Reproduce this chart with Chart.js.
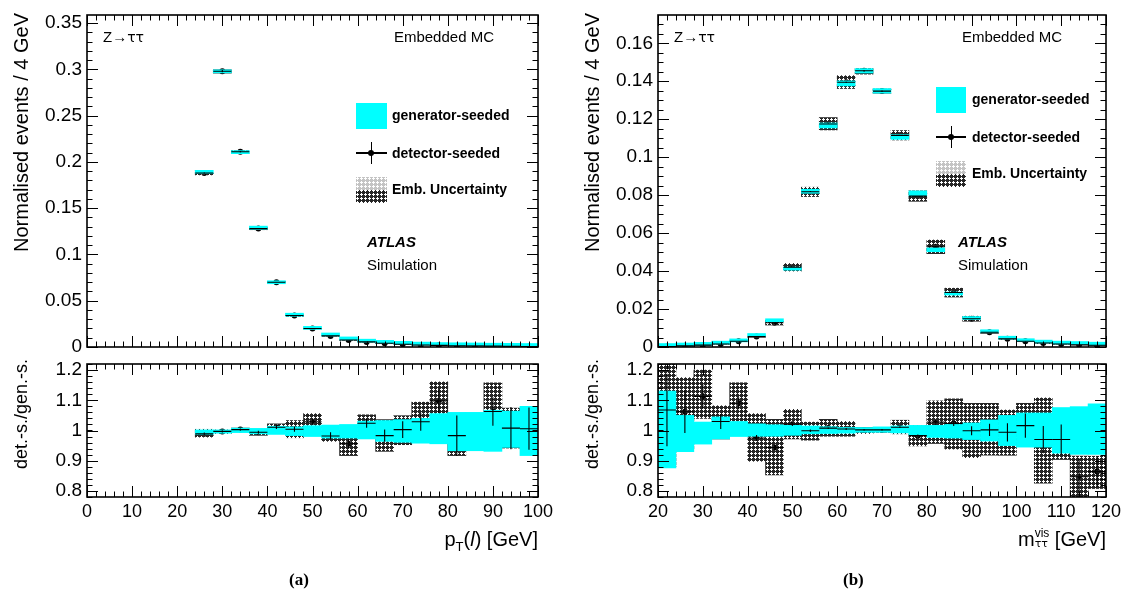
<!DOCTYPE html>
<html>
<head>
<meta charset="utf-8">
<script src="https://cdn.jsdelivr.net/npm/chart.js@4.4.1/dist/chart.umd.min.js"></script>
<style>
body { margin: 0; width: 1128px; height: 590px; background: #fff; position: relative; overflow: hidden;
       font-family: "Liberation Sans", Arial, sans-serif; color: #000; }
.pane { position: absolute; }
.t { position: absolute; white-space: nowrap; }
.vt { position: absolute; white-space: nowrap; transform: rotate(-90deg); transform-origin: left top; text-align: right; }
.leg { font-weight: bold; font-size: 14px; line-height: 16px; }
.lab { font-size: 15px; line-height: 18px; }
.tau { font-family: "DejaVu Sans", sans-serif; font-size: 14px; }
.xt { font-size: 20px; line-height: 24px; text-align: right; }
.sub { font-size: 13px; position: relative; top: 5px; }
.pl { font-family: "Liberation Serif", "Times New Roman", serif; font-weight: bold; font-size: 17px; line-height: 20px; }
</style>
</head>
<body>
<div class="pane" style="left:0;top:-10px;width:560px;height:380px"><canvas id="ptTop"></canvas></div>
<div class="pane" style="left:0;top:340px;width:560px;height:250px"><canvas id="ptRat"></canvas></div>
<div class="pane" style="left:570px;top:-10px;width:558px;height:380px"><canvas id="mTop"></canvas></div>
<div class="pane" style="left:570px;top:340px;width:558px;height:250px"><canvas id="mRat"></canvas></div>

<!-- axis titles -->
<div class="vt" style="left:10px;top:313px;width:300px;font-size:20px;line-height:22px">Normalised events / 4 GeV</div>
<div class="vt" style="left:581px;top:313px;width:300px;font-size:20px;line-height:22px">Normalised events / 4 GeV</div>
<div class="vt" style="left:11px;top:559px;width:200px;font-size:18px;line-height:20px">det.-s./gen.-s.</div>
<div class="vt" style="left:582px;top:559px;width:200px;font-size:18px;line-height:20px">det.-s./gen.-s.</div>
<div class="t xt" style="right:590px;top:527px">p<span class="sub">T</span>(<i>l</i>) [GeV]</div>
<div class="t xt" style="right:22px;top:527px">m<span style="display:inline-block;vertical-align:middle;font-size:12px;line-height:10px;text-align:left;position:relative;top:-2px">vis<br><span style="font-family:'DejaVu Sans';font-size:11px">ττ</span></span> [GeV]</div>

<!-- panel (a) -->
<div class="t lab" style="left:103px;top:28px">Z→<span class="tau">ττ</span></div>
<div class="t lab" style="right:634px;top:28px">Embedded MC</div>
<div class="t" style="left:356px;top:103px;width:31px;height:26px;background:#00ffff"></div>
<div class="t leg" style="left:392px;top:107px">generator-seeded</div>
<div class="t" style="left:356px;top:152px;width:31px;height:1.5px;background:#000"></div>
<div class="t" style="left:370.5px;top:142px;width:1.5px;height:22px;background:#000"></div>
<div class="t" style="left:368px;top:150px;width:6px;height:6px;border-radius:3px;background:#000"></div>
<div class="t leg" style="left:392px;top:145px">detector-seeded</div>
<canvas class="t sw" width="31" height="26" style="left:356px;top:177px"></canvas>
<div class="t leg" style="left:392px;top:181px">Emb. Uncertainty</div>
<div class="t lab" style="left:367px;top:233px;font-weight:bold;font-style:italic">ATLAS</div>
<div class="t lab" style="left:367px;top:256px">Simulation</div>
<div class="t pl" style="left:289px;top:570px">(a)</div>

<!-- panel (b) -->
<div class="t lab" style="left:674px;top:28px">Z→<span class="tau">ττ</span></div>
<div class="t lab" style="right:66px;top:28px">Embedded MC</div>
<div class="t" style="left:936px;top:87px;width:30px;height:26px;background:#00ffff"></div>
<div class="t leg" style="left:972px;top:91px">generator-seeded</div>
<div class="t" style="left:936px;top:136px;width:30px;height:1.5px;background:#000"></div>
<div class="t" style="left:950.5px;top:126px;width:1.5px;height:22px;background:#000"></div>
<div class="t" style="left:948px;top:134px;width:6px;height:6px;border-radius:3px;background:#000"></div>
<div class="t leg" style="left:972px;top:129px">detector-seeded</div>
<canvas class="t sw" width="30" height="26" style="left:936px;top:161px"></canvas>
<div class="t leg" style="left:972px;top:165px">Emb. Uncertainty</div>
<div class="t lab" style="left:958px;top:233px;font-weight:bold;font-style:italic">ATLAS</div>
<div class="t lab" style="left:958px;top:256px">Simulation</div>
<div class="t pl" style="left:843px;top:570px">(b)</div>

<script>
// ---- (a) lepton pT, 4 GeV bins ----
const ptCenters = [26, 30, 34, 38, 42, 46, 50, 54, 58, 62, 66, 70, 74, 78, 82, 86, 90, 94, 98];
const ptDet = [0.188, 0.298, 0.211, 0.128, 0.070, 0.034, 0.020, 0.012, 0.0075, 0.0055, 0.004, 0.003,
               0.0022, 0.0018, 0.0014, 0.0012, 0.001, 0.0008, 0.0006];
const ptRatio = [0.989, 0.997, 1.003, 0.994, 1.011, 1.004, 1.029, 0.982, 0.956, 1.024, 0.983, 1.003,
                 1.029, 1.098, 0.983, null, 1.063, 1.008, 1.006];
const ptRatioErr = [0.004, 0.004, 0.004, 0.005, 0.006, 0.008, 0.01, 0.012, 0.015, 0.015, 0.02, 0.028,
                    0.03, 0.04, 0.067, null, 0.047, 0.07, 0.07];
const ptEmbLo = [0.978, 0.99, 0.997, 0.984, 1.0, 0.976, 1.002, 0.964, 0.917, 0.994, 0.931, 0.953,
                 0.964, 1.033, 0.917, null, 0.964, 0.942, 0.942];
const ptEmbHi = [1.004, 1.002, 1.008, 1.004, 1.022, 1.033, 1.056, 1.0, 0.994, 1.052, 1.036, 1.049,
                 1.094, 1.161, 1.053, null, 1.158, 1.074, 1.067];
const ptGenLo = [0.987, 0.991, 0.993, 0.989, 0.987, 0.983, 0.98, 0.975, 0.975, 0.972, 0.964, 0.961,
                 0.958, 0.956, 0.933, 0.933, 0.931, 0.944, 0.917];
const ptGenHi = [1.002, 1.002, 1.008, 1.007, 1.014, 1.012, 1.016, 1.018, 1.02, 1.031, 1.033, 1.036,
                 1.04, 1.056, 1.06, 1.06, 1.067, 1.064, 1.08];
const ptXTicks = [0, 10, 20, 30, 40, 50, 60, 70, 80, 90, 100];
const ptYTicks = [0, 0.05, 0.1, 0.15, 0.2, 0.25, 0.3, 0.35];

// ---- (b) visible mass, 4 GeV bins ----
const mCenters = [22, 26, 30, 34, 38, 42, 46, 50, 54, 58, 62, 66, 70, 74, 78, 82, 86, 90, 94, 98, 102, 106, 110, 114, 118];
const mDet = [0.0003, 0.0006, 0.001, 0.0016, 0.003, 0.0055, 0.0128, 0.042, 0.0818, 0.1175, 0.1395, 0.1455,
              0.1348, 0.1115, 0.0795, 0.0528, 0.0287, 0.0149, 0.0078, 0.0043, 0.003, 0.0021, 0.0016, 0.0012, 0.0009];
const mRatio = [1.068, 1.062, 1.113, 1.03, 1.09, 0.975, 0.944, 1.021, 0.999, 1.008, 1.005, 1.002, 1.002,
                1.011, 0.983, 1.028, 1.023, 0.999, 1.002, 0.994, 1.016, 0.97, 0.97, 0.847, 0.864];
const mRatioErr = [0.12, 0.07, 0.04, 0.025, 0.02, 0.01, 0.008, 0.006, 0.004, 0.003, 0.003, 0.003, 0.003,
                   0.003, 0.004, 0.006, 0.008, 0.015, 0.02, 0.03, 0.04, 0.045, 0.05, 0.06, 0.05];
const mEmbLo = [0.88, 0.938, 1.04, 0.972, 1.03, 0.898, 0.853, 0.972, 0.968, 0.981, 0.981, 0.99, 0.994,
                0.989, 0.949, 0.957, 0.938, 0.91, 0.918, 0.918, 0.949, 0.826, 0.904, 0.70, 0.808];
const mEmbHi = [1.25, 1.175, 1.2, 1.082, 1.158, 1.056, 1.037, 1.07, 1.028, 1.037, 1.03, 1.01, 1.01,
                1.034, 1.017, 1.098, 1.105, 1.09, 1.09, 1.068, 1.09, 1.108, 1.034, 0.915, 0.915];
const mGenLo = [0.876, 0.93, 0.955, 0.972, 0.98, 0.981, 0.981, 0.984, 0.989, 0.99, 0.991, 0.994, 0.994,
                0.992, 0.984, 0.977, 0.975, 0.97, 0.965, 0.95, 0.945, 0.945, 0.925, 0.921, 0.921];
const mGenHi = [1.13, 1.05, 1.028, 1.045, 1.03, 1.022, 1.019, 1.017, 1.015, 1.0125, 1.01, 1.01, 1.012,
                1.015, 1.017, 1.017, 1.02, 1.025, 1.035, 1.05, 1.058, 1.058, 1.076, 1.079, 1.088];
const mXTicks = [20, 30, 40, 50, 60, 70, 80, 90, 100, 110, 120];
const mYTicks = [0, 0.02, 0.04, 0.06, 0.08, 0.1, 0.12, 0.14, 0.16];

const ratioYTicks = [0.8, 0.9, 1, 1.1, 1.2];

Chart.defaults.font.family = '"Liberation Sans", Arial, sans-serif';
Chart.defaults.color = '#000';
Chart.defaults.animation = false;

// cross-hatch: dark diagonal grid with small white holes, transparent so cyan shows through
function hatch(ctx, col) {
    const c = document.createElement('canvas');
    c.width = c.height = 4;
    const g = c.getContext('2d');
    g.fillStyle = col;
    g.fillRect(0, 0, 4, 4);
    // punch a small plus shaped hole
    [[1, 0], [0, 1], [1, 1], [2, 1], [1, 2]].forEach(p => g.clearRect(p[0], p[1], 1, 1));
    return ctx.createPattern(c, 'repeat');
}

// legend swatches for the uncertainty (light + dark hatch)
document.querySelectorAll('.sw').forEach(c => {
    const g = c.getContext('2d');
    g.fillStyle = hatch(g, '#c4c4c4');
    g.fillRect(0, 0, c.width, 13);
    g.fillStyle = hatch(g, '#262626');
    g.fillRect(0, 13, c.width, 13);
});

// ROOT style frame with ticks pointing inwards, on all four sides
const frame = {
    id: 'frame',
    afterDraw(chart, args, o) {
        const { ctx, chartArea: a, scales: { x, y } } = chart;
        ctx.save();
        ctx.strokeStyle = '#000';
        ctx.lineWidth = 1;
        ctx.beginPath();
        const xs = (v, len) => {
            const p = Math.round(x.getPixelForValue(v)) + 0.5;
            ctx.moveTo(p, a.bottom); ctx.lineTo(p, a.bottom - len);
            ctx.moveTo(p, a.top); ctx.lineTo(p, a.top + len);
        };
        const ys = (v, len) => {
            const p = Math.round(y.getPixelForValue(v)) + 0.5;
            ctx.moveTo(a.left, p); ctx.lineTo(a.left + len, p);
            ctx.moveTo(a.right, p); ctx.lineTo(a.right - len, p);
        };
        for (let v = x.min; v <= x.max + 1e-9; v += o.xMinor) xs(v, 5.5);
        o.xTicks.forEach(v => xs(v, 11));
        const y0 = Math.ceil(y.min / o.yMinor - 1e-9) * o.yMinor;
        for (let v = y0; v <= y.max + 1e-9; v += o.yMinor) ys(v, 5.5);
        o.yTicks.forEach(v => ys(v, 11));
        ctx.stroke();
        ctx.lineWidth = 1.6;
        ctx.strokeRect(a.left, a.top, a.width, a.height);
        ctx.restore();
    }
};

// horizontal bin-width bars and vertical error bars on the detector-seeded points
const errBars = {
    id: 'errBars',
    afterDatasetsDraw(chart) {
        const { ctx, chartArea: a, scales: { x, y } } = chart;
        ctx.save();
        ctx.beginPath();
        ctx.rect(a.left, a.top, a.width, a.height);
        ctx.clip();
        ctx.strokeStyle = '#000';
        ctx.lineWidth = 1.1;
        chart.data.datasets.forEach(ds => {
            if (!ds.errs) return;
            ds.data.forEach((p, i) => {
                if (p.y == null) return;
                const px = x.getPixelForValue(p.x), py = y.getPixelForValue(p.y);
                ctx.beginPath();
                ctx.moveTo(x.getPixelForValue(p.x - 2), py);
                ctx.lineTo(x.getPixelForValue(p.x + 2), py);
                if (ds.errs[i]) {
                    ctx.moveTo(px, y.getPixelForValue(p.y - ds.errs[i]));
                    ctx.lineTo(px, y.getPixelForValue(p.y + ds.errs[i]));
                }
                ctx.stroke();
            });
        });
        ctx.restore();
    }
};

function build(id, datasets, xr, yr, xTicks, yTicks, yMinor, yWidth, isRatio) {
    const canvas = document.getElementById(id);
    const ctx = canvas.getContext('2d');
    return new Chart(ctx, {
        type: 'bar',
        data: { datasets: datasets(ctx) },
        options: {
            responsive: true,
            maintainAspectRatio: false,
            layout: { padding: isRatio ? { left: 0, right: 22, top: 24, bottom: 0 } : { left: 0, right: 22, top: 25, bottom: 23 } },
            datasets: { bar: { grouped: false, barPercentage: 1, categoryPercentage: 1, borderWidth: 0 } },
            plugins: {
                legend: { display: false },
                tooltip: { enabled: false },
                frame: { xTicks: xTicks, yTicks: yTicks, xMinor: 2, yMinor: yMinor }
            },
            scales: {
                x: {
                    type: 'linear', min: xr[0], max: xr[1], offset: false, display: isRatio,
                    afterBuildTicks: s => { s.ticks = xTicks.map(v => ({ value: v })); },
                    afterFit: s => { s.height = isRatio ? 93 : 0; },
                    grid: { display: false, drawTicks: false },
                    border: { display: false },
                    ticks: { autoSkip: false, maxRotation: 0, padding: 4, font: { size: 18 }, callback: v => String(v) }
                },
                y: {
                    min: yr[0], max: yr[1],
                    afterBuildTicks: s => { s.ticks = yTicks.map(v => ({ value: v })); },
                    afterFit: s => { s.width = yWidth; },
                    grid: { display: false, drawTicks: false },
                    border: { display: false },
                    ticks: { autoSkip: false, padding: 5, font: { size: 19 }, callback: v => String(v) }
                }
            }
        },
        plugins: [frame, errBars]
    });
}

function topSets(centers, det, ratio, err, eLo, eHi, gLo, gHi) {
    return ctx => {
        const gen = det.map((d, i) => ratio[i] ? d / ratio[i] : d);
        return [
            { type: 'bar', backgroundColor: '#00ffff', minBarLength: 3,
              data: centers.map((x, i) => ({ x: x, y: [gen[i] * gLo[i], gen[i] * gHi[i]] })) },
            { type: 'bar', backgroundColor: hatch(ctx, '#262626'),
              data: centers.map((x, i) => ({ x: x, y: ratio[i] ? [det[i] * eLo[i] / ratio[i], det[i] * eHi[i] / ratio[i]] : null })) },
            { type: 'scatter', pointRadius: 3, pointBackgroundColor: '#000', pointBorderWidth: 0,
              errs: det.map((d, i) => ratio[i] ? d * err[i] / ratio[i] : 0),
              data: centers.map((x, i) => ({ x: x, y: det[i] })) }
        ];
    };
}

function ratioSets(centers, ratio, err, eLo, eHi, gLo, gHi) {
    return ctx => [
        { type: 'bar', backgroundColor: '#00ffff',
          data: centers.map((x, i) => ({ x: x, y: [gLo[i], gHi[i]] })) },
        { type: 'bar', backgroundColor: hatch(ctx, '#262626'),
          data: centers.map((x, i) => ({ x: x, y: eLo[i] == null ? null : [eLo[i], eHi[i]] })) },
        { type: 'scatter', pointRadius: 3, pointBackgroundColor: '#000', pointBorderWidth: 0,
          errs: err,
          data: centers.map((x, i) => ({ x: x, y: ratio[i] })) }
    ];
}

build('ptTop', topSets(ptCenters, ptDet, ptRatio, ptRatioErr, ptEmbLo, ptEmbHi, ptGenLo, ptGenHi),
      [0, 100], [0, 0.3587], ptXTicks, ptYTicks, 0.01, 87, false);
build('ptRat', ratioSets(ptCenters, ptRatio, ptRatioErr, ptEmbLo, ptEmbHi, ptGenLo, ptGenHi),
      [0, 100], [0.78, 1.22], ptXTicks, ratioYTicks, 0.02, 87, true);
build('mTop', topSets(mCenters, mDet, mRatio, mRatioErr, mEmbLo, mEmbHi, mGenLo, mGenHi),
      [20, 120], [0, 0.1749], mXTicks, mYTicks, 0.005, 88, false);
build('mRat', ratioSets(mCenters, mRatio, mRatioErr, mEmbLo, mEmbHi, mGenLo, mGenHi),
      [20, 120], [0.78, 1.22], mXTicks, ratioYTicks, 0.02, 88, true);
</script>
</body>
</html>
